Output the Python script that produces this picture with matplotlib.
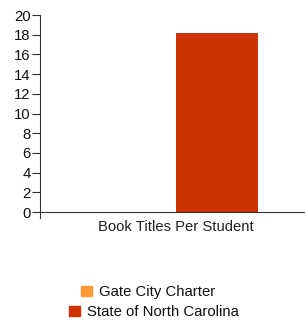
import numpy as np
import matplotlib
matplotlib.use('Agg')
import matplotlib.pyplot as plt
from matplotlib.patches import Patch

categories = ['Book Titles Per Student']
series = ['Gate City Charter', 'State of North Carolina']
values = [0.05, 18.2]
colors = ['#FF9933', '#CC3300']
yticks = list(range(0, 21, 2))

plt.rcParams['font.family'] = ['Liberation Sans', 'DejaVu Sans']
fs = 10.7

W, H = 305, 322
ymin = -0.65
ppu = 197/20.
fig = plt.figure(figsize=(W/100., H/100.), dpi=100)
ax = fig.add_axes([40.5/W, (H-212+ymin*ppu)/H, (W-40.5)/W, (20-ymin)*ppu/H])

x = np.arange(len(categories))
bw = 0.31
for i, (s, v, c) in enumerate(zip(series, values, colors)):
    ax.bar(x + (i-0.5)*bw, [v], width=bw, color=c, align='center')
ax.bar(x - 0.5*bw, [values[0]], width=bw, color='#8B4513', align='center')

ax.set_xlim(-0.512, 0.488)
ax.set_ylim(ymin, 20)
ax.set_yticks(yticks)
ax.set_xticks(x)
ax.set_xticklabels(categories)
ax.tick_params(axis='x', length=0, pad=6, labelsize=fs, colors='#222222')
ax.tick_params(axis='y', length=6, width=0.8, pad=1, labelsize=fs, colors='#333333')
for t in ax.get_yticklabels(): t.set_color('#111111')
for t in ax.get_xticklabels(): t.set_color('#111111')
ax.spines['top'].set_visible(False)
ax.spines['right'].set_visible(False)
ax.spines['bottom'].set_position(('data', 0))
ax.spines['left'].set_color('#333333')
ax.spines['bottom'].set_color('#333333')
ax.spines['left'].set_linewidth(0.8)
ax.spines['bottom'].set_linewidth(0.8)

# legend, one centered line per entry
ys = [292, 312]
cx = [148.5, 154]
for s, c, yy, xx in zip(series, colors, ys, cx):
    fig.legend(handles=[Patch(color=c, label=s)], loc='center',
               bbox_to_anchor=(xx/W, 1 - yy/H), frameon=False, fontsize=fs,
               handlelength=0.72, handleheight=0.72, handletextpad=0.5,
               borderpad=0, borderaxespad=0, labelcolor='#111111')

fig.savefig('out.png', dpi=100)
